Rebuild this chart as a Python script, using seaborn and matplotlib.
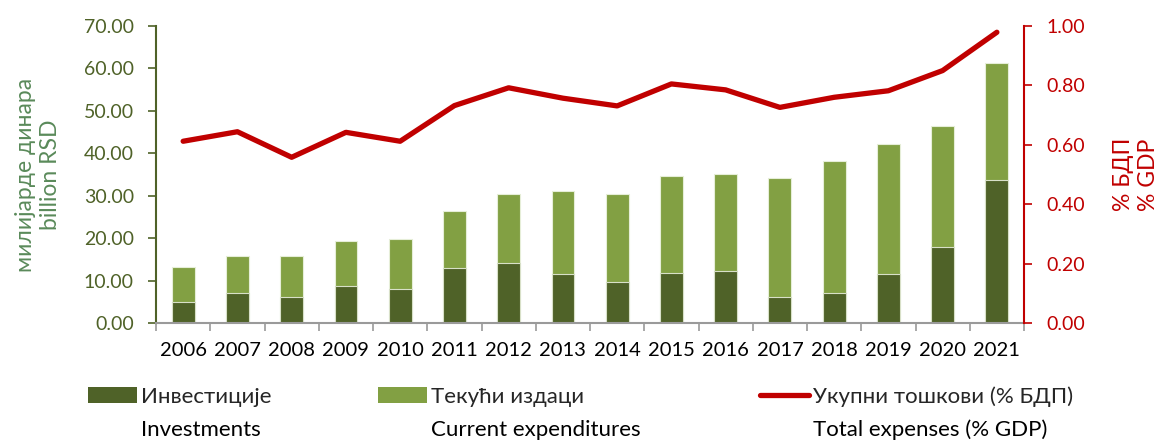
import numpy as np
import matplotlib
matplotlib.use("Agg")
import matplotlib.pyplot as plt
import seaborn as sns
from matplotlib.patches import Patch
from matplotlib.lines import Line2D
from matplotlib.ticker import FixedLocator, FormatStrFormatter

sns.set_theme(style="white")
plt.rcParams["font.family"] = ["Lato", "Noto Sans", "DejaVu Sans"]

YEARS = ["2006", "2007", "2008", "2009", "2010", "2011", "2012", "2013",
         "2014", "2015", "2016", "2017", "2018", "2019", "2020", "2021"]
INVESTMENTS = [5.0, 7.1, 6.2, 8.8, 8.0, 12.9, 14.1, 11.5,
               9.7, 11.9, 12.3, 6.2, 7.1, 11.5, 18.0, 33.8]
TOTAL = [13.3, 15.9, 15.9, 19.4, 19.8, 26.4, 30.3, 31.2,
         30.3, 34.7, 35.1, 34.2, 38.2, 42.1, 46.5, 61.4]
PCT_GDP = [0.612, 0.644, 0.558, 0.642, 0.612, 0.732, 0.792, 0.757,
           0.731, 0.805, 0.785, 0.726, 0.760, 0.782, 0.850, 0.979]

LEGEND_SR = ["Инвестиције", "Текући издаци", "Укупни тошкови (% БДП)"]
LEGEND_EN = ["Investments", "Current expenditures", "Total expenses (% GDP)"]

DARK_GREEN = "#4F6228"
LIGHT_GREEN = "#82A043"
RED = "#C00000"
LABEL_GREEN = "#5A8A5A"

fig = plt.figure(figsize=(11.61, 4.41), dpi=100)
ax = fig.add_axes([0.1344, 0.2676, 0.7476, 0.6734])

# stacked bars: total (light) underneath, investments (dark) on top of it
sns.barplot(x=YEARS, y=TOTAL, color=LIGHT_GREEN, width=0.42, ax=ax,
            saturation=1, edgecolor="#E6EED8", linewidth=0.8)
sns.barplot(x=YEARS, y=INVESTMENTS, color=DARK_GREEN, width=0.42, ax=ax,
            saturation=1, edgecolor="#D8E0C8", linewidth=0.8)

ax.set_ylim(0, 70)
ax.set_yticks(np.arange(0, 71, 10))
ax.yaxis.set_major_formatter(FormatStrFormatter("%.2f"))
ax.tick_params(axis="y", colors=DARK_GREEN, labelsize=14, length=6,
               width=1.2, direction="out", left=True, pad=10)
ax.set_ylabel("милијарде динара\nbillion RSD", color=LABEL_GREEN,
              fontsize=16.5, labelpad=16, linespacing=1.25)

# x axis: labels at centres, tick marks between categories
ax.set_xlim(-0.5, len(YEARS) - 0.5)
ax.tick_params(axis="x", which="major", length=0, labelsize=14.5,
               colors="black", pad=14)
ax.xaxis.set_minor_locator(FixedLocator(np.arange(-0.5, len(YEARS), 1.0)))
ax.tick_params(axis="x", which="minor", bottom=True, length=6, width=1.2,
               color="#9A9A9A", direction="out")
ax.set_xlabel("")

for side in ["top", "right"]:
    ax.spines[side].set_visible(False)
ax.spines["left"].set_color(DARK_GREEN)
ax.spines["left"].set_linewidth(1.5)
ax.spines["bottom"].set_color("#9A9A9A")
ax.spines["bottom"].set_linewidth(1.5)

ax2 = ax.twinx()
sns.pointplot(x=YEARS, y=PCT_GDP, color=RED, markers="", linestyles="-",
              linewidth=3.8, ax=ax2, errorbar=None)
ax2.set_ylim(0, 1.0)
ax2.set_yticks(np.arange(0, 1.01, 0.2))
ax2.yaxis.set_major_formatter(FormatStrFormatter("%.2f"))
ax2.tick_params(axis="y", colors=RED, labelsize=14, length=6, width=1.2,
                direction="out", right=True, pad=10)
ax2.set_ylabel("% БДП\n% GDP", color=RED, fontsize=16.5, labelpad=20,
               linespacing=1.25)
ax2.set_xlim(-0.5, len(YEARS) - 0.5)
for side in ["top", "left", "bottom"]:
    ax2.spines[side].set_visible(False)
ax2.spines["right"].set_color(RED)
ax2.spines["right"].set_linewidth(1.5)
ax2.grid(False)
ax.grid(False)

# legend: one small legend per entry, english line written under each
handles = [
    Patch(facecolor=DARK_GREEN, edgecolor="none"),
    Patch(facecolor=LIGHT_GREEN, edgecolor="none"),
    Line2D([0], [0], color=RED, linewidth=3.8),
]
anchors_x = [88 / 1161, 378 / 1161, 760 / 1161]
legends = []
for h, lab, x0 in zip(handles, LEGEND_SR, anchors_x):
    lg = fig.legend([h], [lab], loc="center left", bbox_to_anchor=(x0, 1 - 397 / 441),
                    frameon=False, fontsize=16, handlelength=2.2,
                    handleheight=0.75, handletextpad=0.2, borderpad=0,
                    borderaxespad=0)
    legends.append(lg)

fig.canvas.draw()
renderer = fig.canvas.get_renderer()
for lg, en in zip(legends, LEGEND_EN):
    bb = lg.get_texts()[0].get_window_extent(renderer)
    fig.text(bb.x0 / fig.bbox.width, 1 - 430 / 441, en, fontsize=16,
             ha="left", va="center", color="black")

fig.savefig("out.png", dpi=100)
